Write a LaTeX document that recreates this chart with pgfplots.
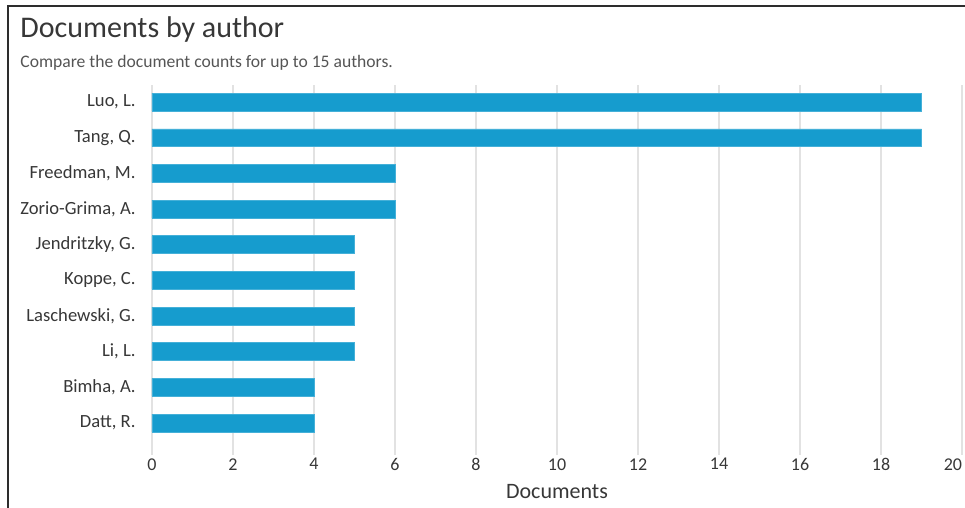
\documentclass[border=0pt]{standalone}
\usepackage{pgfplots}
\pgfplotsset{compat=1.18}
\usepackage{fontspec}
\setmainfont{Carlito}
\definecolor{barblue}{RGB}{22,156,206}
\definecolor{gridgray}{RGB}{226,226,226}
\definecolor{txtgray}{RGB}{55,55,55}
\definecolor{framegray}{RGB}{45,45,45}
\begin{document}
\begin{tikzpicture}
\path[use as bounding box] (0pt,0pt) rectangle (482.5pt,254pt);
\draw[line width=1pt, framegray] (4pt,0pt) -- (4pt,251pt) -- (482.5pt,251pt);
\node[anchor=base west, inner sep=0pt, text=txtgray] at (10pt,235pt) {\fontsize{15}{17}\selectfont Documents by author};
\node[anchor=base west, inner sep=0pt, text=txtgray!85] at (10pt,220pt) {\fontsize{8.8}{10}\selectfont Compare the document counts for up to 15 authors.};
\node[anchor=base, inner sep=0pt, text=txtgray] at (278.5pt,4.5pt) {\fontsize{11}{13}\selectfont Documents};
\begin{axis}[
  at={(76pt,26.5pt)}, anchor=south west,
  scale only axis, width=405pt, height=185pt,
  xbar, bar width=0.5,
  xmin=0, xmax=20, ymin=-0.9, ymax=9.48,
  xtick={0,2,...,20},
  xticklabels={0,2,4,6,8,10,12,14,16,18,\makebox[0pt][r]{20}},
  ytick={0,1,...,9},
  yticklabels={{Datt, R.},{Bimha, A.},{Li, L.},{Laschewski, G.},{Koppe, C.},{Jendritzky, G.},{Zorio-Grima, A.},{Freedman, M.},{Tang, Q.},{Luo, L.}},
  axis line style={draw=none},
  major tick length=0pt,
  xmajorgrids, grid style={gridgray, line width=0.6pt},
  /pgf/number format/assume math mode=true,
  xticklabel style={inner sep=0pt, yshift=-1.5pt, text=txtgray, font=\fontsize{9}{10}\selectfont},
  yticklabel style={inner sep=0pt, xshift=-8pt, text=txtgray, font=\fontsize{9.3}{10}\selectfont},
]
\addplot[fill=barblue, draw=barblue!80!white, line width=0.3pt] coordinates {
(4,0) (4,1) (5,2) (5,3) (5,4) (5,5) (6,6) (6,7) (19,8) (19,9)
};
\end{axis}
\end{tikzpicture}
\end{document}
